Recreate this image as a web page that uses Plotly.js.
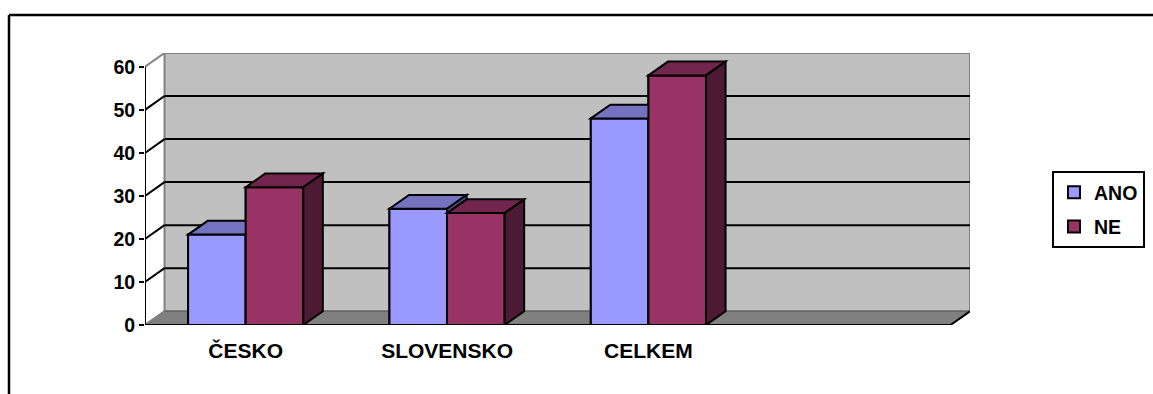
<!DOCTYPE html>
<html>
<head>
<meta charset="utf-8">
<script src="https://cdn.plot.ly/plotly-3.0.1.min.js"></script>
<style>html,body{margin:0;padding:0;background:#fff;}#chart{width:1153px;height:394px;}</style>
</head>
<body>
<div id="chart"></div>
<script>
// ---- data ----
const categories = ['ČESKO', 'SLOVENSKO', 'CELKEM', ''];
const seriesNames = ['ANO', 'NE'];
const anoValues = [21, 27, 48];
const neValues = [32, 26, 58];
const yTickValues = [0, 10, 20, 30, 40, 50, 60];

// ---- style / geometry ----
const BW = 0.286;          // bar width (category units)
const DX = 0.097;          // 3D depth offset, x units
const DY = 3.2;            // 3D depth offset, y units
const XMIN = -0.5, XMAX = categories.length - 0.5;
const YMAX = yTickValues[yTickValues.length - 1];
const colors = {
  ANO: {front: '#9999FF', top: '#7373BF', side: '#4D4D80'},
  NE:  {front: '#993366', top: '#73264D', side: '#4D1A33'}
};
const family = 'Arial, "Liberation Sans", sans-serif';
const yFont = {family: family, size: 19.5, weight: 'bold', color: '#000'};
const xFont = {family: family, size: 21, weight: 'bold', color: '#000'};
const legFont = {family: family, size: 19.5, weight: 'bold', color: '#000'};

const shapes = [];
// back wall
shapes.push({type: 'rect', layer: 'below', xref: 'x', yref: 'y', x0: XMIN + DX, x1: XMAX + DX, y0: DY, y1: YMAX + DY,
  fillcolor: '#C0C0C0', line: {color: '#808080', width: 2}});
// floor
shapes.push({type: 'path', layer: 'below', xref: 'x', yref: 'y',
  path: `M${XMIN},0 L${XMAX},0 L${XMAX + DX},${DY} L${XMIN + DX},${DY} Z`,
  fillcolor: '#808080', line: {color: '#666666', width: 1.5}});
// gridlines on back wall + diagonals to the front axis
yTickValues.forEach(v => {
  const gridCol = (v === 0 || v === YMAX) ? '#808080' : '#000';
  shapes.push({type: 'line', layer: 'below', xref: 'x', yref: 'y', x0: XMIN, y0: v, x1: XMIN + DX, y1: v + DY,
    line: {color: gridCol, width: 2}});
  if (v > 0 && v < YMAX) {
    shapes.push({type: 'line', layer: 'below', xref: 'x', yref: 'y', x0: XMIN + DX, y0: v + DY, x1: XMAX + DX, y1: v + DY,
      line: {color: '#000', width: 2}});
  }
});
// front floor edge & right diagonal
shapes.push({type: 'line', layer: 'below', xref: 'x', yref: 'y', x0: XMIN, y0: 0, x1: XMAX, y1: 0, line: {color: '#000', width: 2}});
shapes.push({type: 'line', layer: 'below', xref: 'x', yref: 'y', x0: XMAX, y0: 0, x1: XMAX + DX, y1: DY, line: {color: '#000', width: 2}});
// front y axis line
shapes.push({type: 'line', layer: 'above', xref: 'x', yref: 'y', x0: XMIN, y0: 0, x1: XMIN, y1: YMAX, line: {color: '#000', width: 2}});
// category boundary ticks
for (let i = 0; i <= categories.length; i++) {
  shapes.push({type: 'line', layer: 'above', xref: 'x', yref: 'y', ysizemode: 'pixel', yanchor: 0,
    x0: XMIN + i, x1: XMIN + i, y0: 0, y1: -6, line: {color: '#000', width: 2}});
}
// 3D bar faces (drawn in order so nearer faces cover farther ones)
function addFaces(x0, x1, v, c) {
  const ln = {color: '#000', width: 2};
  shapes.push({type: 'path', layer: 'above', xref: 'x', yref: 'y', fillcolor: c.front, line: ln,
    path: `M${x0},0 L${x0},${v} L${x1},${v} L${x1},0 Z`});
  shapes.push({type: 'path', layer: 'above', xref: 'x', yref: 'y', fillcolor: c.top, line: ln,
    path: `M${x0},${v} L${x0 + DX},${v + DY} L${x1 + DX},${v + DY} L${x1},${v} Z`});
  shapes.push({type: 'path', layer: 'above', xref: 'x', yref: 'y', fillcolor: c.side, line: ln,
    path: `M${x1},0 L${x1},${v} L${x1 + DX},${v + DY} L${x1 + DX},${DY} Z`});
}
anoValues.forEach((a, i) => {
  addFaces(i - BW, i, a, colors.ANO);
  addFaces(i, i + BW, neValues[i], colors.NE);
});
// outer chart-area border (top and left)
const px2x = p => (p - 145) / 825, py2y = p => (325 - p) / 272;
shapes.push({type: 'line', xref: 'paper', yref: 'paper', x0: px2x(9), x1: px2x(1160), y0: py2y(15), y1: py2y(15), line: {color: '#000', width: 2.5}});
shapes.push({type: 'line', xref: 'paper', yref: 'paper', x0: px2x(9), x1: px2x(9), y0: py2y(15), y1: py2y(400), line: {color: '#000', width: 2.5}});

const xIdx = anoValues.map((_, i) => i);
const traces = [
  {type: 'bar', name: seriesNames[0], x: xIdx, y: anoValues, offset: -BW, width: BW,
   marker: {color: colors.ANO.front, line: {color: '#000', width: 2}}, hoverinfo: 'skip', legendgroup: 'a'},
  {type: 'bar', name: seriesNames[1], x: xIdx, y: neValues, offset: 0, width: BW,
   marker: {color: colors.NE.front, line: {color: '#000', width: 2}}, hoverinfo: 'skip', legendgroup: 'b'}
];

const layout = {
  width: 1153, height: 394, autosize: false,
  margin: {l: 145, r: 183, t: 53, b: 69, pad: 0, autoexpand: false},
  paper_bgcolor: '#fff', plot_bgcolor: 'rgba(0,0,0,0)',
  showlegend: true,
  legend: {x: px2x(1052), y: py2y(171), xanchor: 'left', yanchor: 'top',
    bgcolor: '#fff', bordercolor: '#000', borderwidth: 2, font: legFont,
    traceorder: 'grouped', tracegroupgap: 6, itemclick: false},
  xaxis: {range: [XMIN, XMAX + DX], tickvals: categories.map((_, i) => i), ticktext: categories,
    showgrid: false, zeroline: false, showline: false, ticks: '', tickfont: xFont, ticklabelstandoff: 11, fixedrange: true, automargin: false},
  yaxis: {range: [0, YMAX + DY], tickvals: yTickValues, ticktext: yTickValues.map(String),
    showgrid: false, zeroline: false, showline: false, ticks: 'outside', ticklen: 5, tickwidth: 2, tickcolor: '#000',
    tickfont: yFont, ticklabelstandoff: 0, fixedrange: true, automargin: false},
  shapes: shapes
};
Plotly.newPlot('chart', traces, layout, {staticPlot: true, displayModeBar: false});
</script>
</body>
</html>
